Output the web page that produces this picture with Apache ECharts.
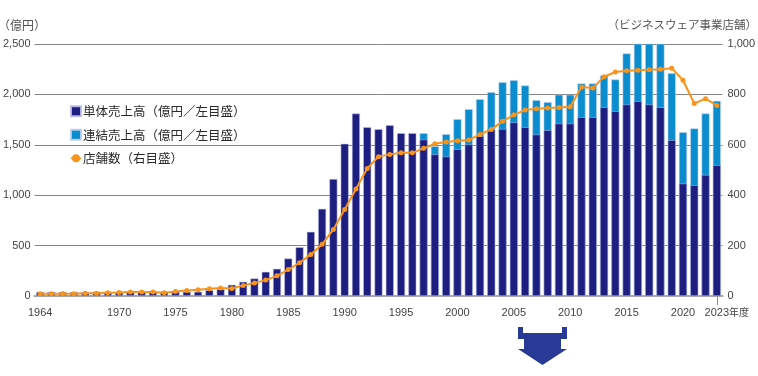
<!DOCTYPE html>
<html>
<head>
<meta charset="utf-8">
<script src="https://cdn.jsdelivr.net/npm/echarts@6/dist/echarts.min.js"></script>
<style>
  html, body { margin:0; padding:0; background:#fff; }
  #chart { width:758px; height:376px; }
</style>
</head>
<body>
<div id="chart"></div>
<script>
  // fiscal periods, one bar each (61 bars, first one is labelled 1964 on the axis)
  const periods = [];
  for (let y = 1963; y <= 2023; y++) periods.push(String(y));

  const tickIndex  = [0, 7, 12, 17, 22, 27, 32, 37, 42, 47, 52, 57, 60];
  const tickLabels = ['1964','1970','1975','1980','1985','1990','1995','2000','2005','2010','2015','2020','2023'];

  // 単体売上高 (億円)
  const standalone = [
    40,40,40,40,40,42,42,42,42,44,44,44,44,
    42,42,58,68,111,141,174,240,270,372,
    484,637,865,1160,1510,1810,1675,1655,1694,1615,
    1615,1552,1405,1384,1456,1503,1585,1655,1657,1722,
    1675,1602,1645,1711,1711,1774,1774,1873,1833,1900,
    1932,1900,1873,1546,1116,1099,1202,1298
  ];

  // 連結売上高 (億円) — only from the period the group reports consolidated
  const consolidated = [
    null,null,null,null,null,null,null,null,null,null,
    null,null,null,null,null,null,null,null,null,null,
    null,null,null,null,null,null,null,null,null,null,
    null,null,null,null,
    1615,1486,1605,1754,1853,1952,2022,2121,2140,2088,
    1943,1923,1996,1996,2108,2108,2187,2148,2406,2525,
    2535,2502,2210,1625,1662,1810,1936
  ];

  // 店舗数 (ビジネスウェア事業)
  const stores = [
    9,9,9,9,11,11,13,14,16,16,16,13,18,
    22,25,29,32,30,42,52,63,80,105,132,
    165,205,264,343,425,506,553,562,568,568,
    586,604,611,616,619,641,661,693,719,738,
    743,746,748,751,829,825,870,889,894,896,898,900,904,856,764,783,756
  ];

  const NAVY = '#1e1e80', BLUE = '#0a8dcf', ORANGE = '#f7941d';
  const FONT = '"Liberation Sans", Arial, sans-serif';
  const JFONT = '"Noto Sans CJK JP", sans-serif';
  const LAST = periods.length - 1;

  const chart = echarts.init(document.getElementById('chart'));

  const fmtNum = v => v.toLocaleString('en-US');

  chart.setOption({
    animation: false,
    backgroundColor: '#fff',
    grid: { left: 31.6, right: 34.6, top: 44, bottom: 80 },
    legend: {
      orient: 'vertical',
      left: 65, top: 100,
      itemWidth: 10, itemHeight: 10, itemGap: 11,
      data: [
        { name: '単体売上高（億円／左目盛）', icon: 'rect' },
        { name: '連結売上高（億円／左目盛）', icon: 'rect' },
        { name: '店舗数（右目盛）' }
      ],
      textStyle: { fontFamily: JFONT, fontSize: 12.5, color: '#2a2a2a', padding: [0,0,0,-3] }
    },
    graphic: [
      { type: 'text', left: -2, top: 19,
        style: { text: '（億円）', font: '12px "Noto Sans CJK JP"', fill: '#555' } },
      { type: 'text', right: 1, top: 19,
        style: { text: '（ビジネスウェア事業店舗）', font: '11.5px "Noto Sans CJK JP"', fill: '#555' } },
      { type: 'polygon', silent: true,
        shape: { points: [[518,327],[523,327],[523,333],[562,333],[562,327],[567,327],[567,339],
                          [561,339],[561,349],[567,349],[542.5,365],[518,349],[524,349],[524,339],[518,339]] },
        style: { fill: '#283a96' } }
    ],
    xAxis: [
      {
        type: 'category',
        data: periods,
        axisLine: { lineStyle: { color: '#a6a6a6', width: 2 } },
        axisTick: { show: false },
        axisLabel: {
          interval: 0,
          margin: 11,
          hideOverlap: false,
          showMinLabel: true, showMaxLabel: true,
          fontFamily: FONT, fontSize: 11, color: '#444',
          formatter: (v, i) => {
            const k = tickIndex.indexOf(i);
            if (k < 0) return '';
            if (i === LAST) return '{pad| }{y|' + tickLabels[k] + '}{s|年度}';
            return tickLabels[k];
          },
          rich: {
            pad: { width: 20 },
            y: { fontFamily: FONT, fontSize: 11, color: '#444' },
            s: { fontFamily: JFONT, fontSize: 10, color: '#444' }
          }
        }
      },
      {
        // second category axis used only for the single tick under the last period
        type: 'category',
        data: periods,
        position: 'bottom',
        axisLine: { show: false },
        axisLabel: { show: false },
        axisTick: {
          show: true, alignWithLabel: true, length: 9,
          interval: 0,
          customValues: [LAST],
          lineStyle: { color: '#888' }
        }
      }
    ],
    yAxis: [
      {
        type: 'value', min: 0, max: 2500, interval: 500,
        axisLine: { show: false }, axisTick: { show: false },
        axisLabel: { margin: 4, fontFamily: FONT, fontSize: 11, color: '#444', formatter: fmtNum },
        splitLine: { lineStyle: { color: '#858585', width: 1 } }
      },
      {
        type: 'value', min: 0, max: 1000, interval: 200,
        axisLine: { show: false }, axisTick: { show: false },
        axisLabel: { margin: 5, fontFamily: FONT, fontSize: 11, color: '#444', formatter: fmtNum },
        splitLine: { show: false }
      }
    ],
    series: [
      {
        name: '連結売上高（億円／左目盛）',
        type: 'bar', data: consolidated,
        barWidth: 8, barGap: '-100%',
        itemStyle: { color: BLUE, borderColor: 'rgba(190,205,235,0.9)', borderWidth: 0.6 },
        z: 2
      },
      {
        name: '単体売上高（億円／左目盛）',
        type: 'bar', data: standalone,
        barWidth: 8,
        itemStyle: { color: NAVY, borderColor: 'rgba(190,190,230,0.9)', borderWidth: 0.6 },
        z: 3
      },
      {
        name: '店舗数（右目盛）',
        type: 'line', yAxisIndex: 1, data: stores,
        symbol: 'circle', symbolSize: 5,
        lineStyle: { color: ORANGE, width: 2 },
        itemStyle: { color: ORANGE },
        z: 5
      }
    ]
  });

  window.addEventListener('resize', () => chart.resize());
</script>
</body>
</html>
